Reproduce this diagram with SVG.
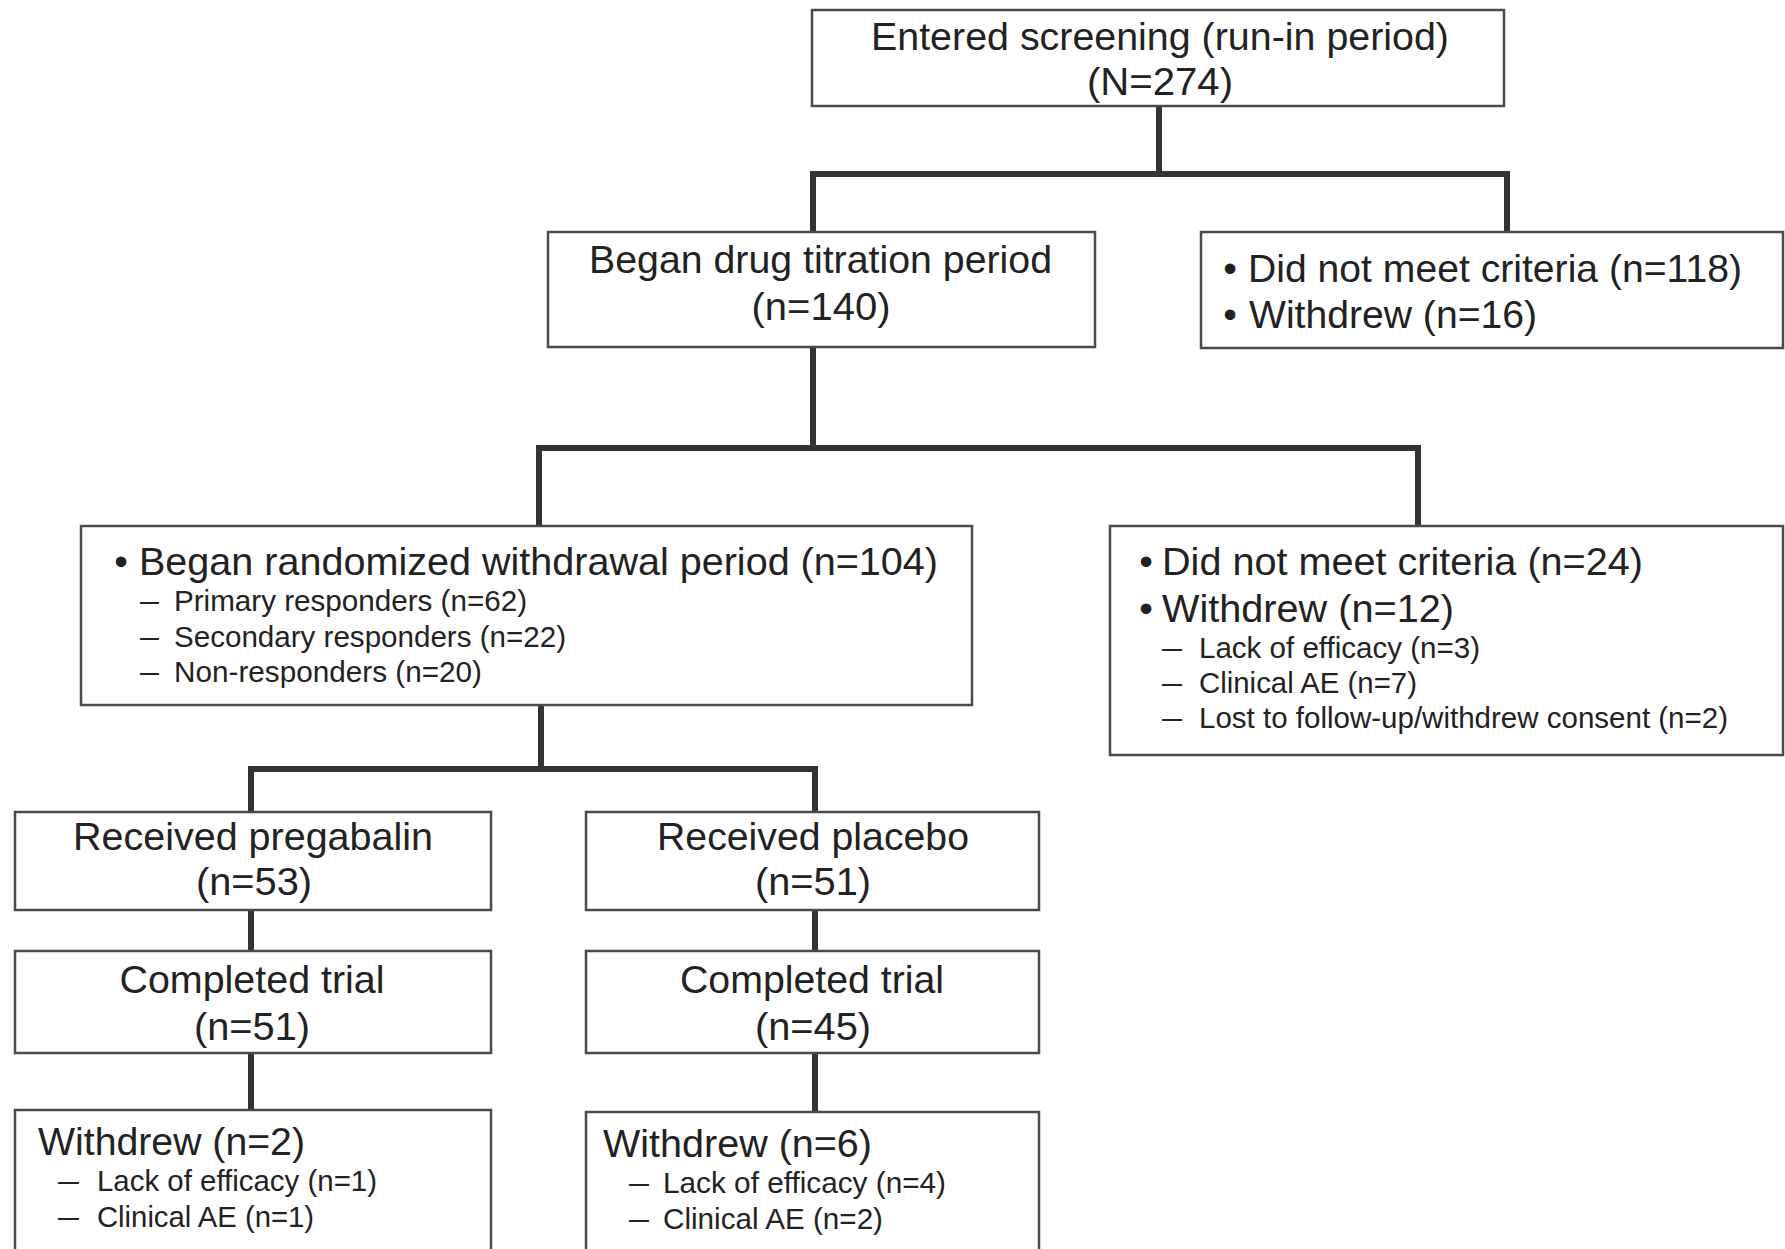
<svg xmlns="http://www.w3.org/2000/svg" width="1785" height="1249" viewBox="0 0 1785 1249">
<style>
.box{fill:#fff;stroke:#4a4a4a;stroke-width:2.5}
.t{font-family:"Liberation Sans",Arial,Helvetica,sans-serif;font-size:39px;fill:#222}
.s{font-family:"Liberation Sans",Arial,Helvetica,sans-serif;font-size:29px;fill:#222}
.m{text-anchor:middle}
.conn{fill:none;stroke:#333;stroke-width:6;stroke-linejoin:miter;stroke-linecap:butt}
</style>
<rect width="1785" height="1249" fill="#fff"/>
<g id="connectors">
<path class="conn" d="M813,232 V174 H1507 V232 M1159,106 V174"/>
<path class="conn" d="M539,526 V448 H1418 V526 M813,347 V448"/>
<path class="conn" d="M251,812 V769 H815 V812 M541,705 V769"/>
<path class="conn" d="M251,910 V951 M251,1053 V1110"/>
<path class="conn" d="M815,910 V951 M815,1053 V1112"/>
</g>
<g id="screening">
<rect class="box" x="812" y="10" width="692" height="96"/>
<text class="t m" x="1160" y="50" textLength="578" lengthAdjust="spacingAndGlyphs">Entered screening (run-in period)</text>
<text class="t m" x="1160" y="95" textLength="146" lengthAdjust="spacingAndGlyphs">(N=274)</text>
</g>
<g id="titration">
<rect class="box" x="548" y="232" width="547" height="115"/>
<text class="t" x="589" y="273" textLength="463" lengthAdjust="spacingAndGlyphs">Began drug titration period</text>
<text class="t m" x="821" y="320" textLength="139" lengthAdjust="spacingAndGlyphs">(n=140)</text>
</g>
<g id="excluded1">
<rect class="box" x="1201" y="232" width="582" height="116"/>
<text class="t m" x="1230" y="282">•</text>
<text class="t" x="1248" y="282" textLength="494" lengthAdjust="spacingAndGlyphs">Did not meet criteria (n=118)</text>
<text class="t m" x="1230" y="328">•</text>
<text class="t" x="1249" y="328" textLength="288" lengthAdjust="spacingAndGlyphs">Withdrew (n=16)</text>
</g>
<g id="randomized">
<rect class="box" x="81" y="526" width="891" height="179"/>
<text class="t m" x="121" y="575">•</text>
<text class="t" x="139" y="575" textLength="799" lengthAdjust="spacingAndGlyphs">Began randomized withdrawal period (n=104)</text>
<text class="s" x="140" y="611" textLength="19" lengthAdjust="spacingAndGlyphs">–</text>
<text class="s" x="174" y="611" textLength="353" lengthAdjust="spacingAndGlyphs">Primary responders (n=62)</text>
<text class="s" x="140" y="647" textLength="19" lengthAdjust="spacingAndGlyphs">–</text>
<text class="s" x="174" y="647" textLength="392" lengthAdjust="spacingAndGlyphs">Secondary responders (n=22)</text>
<text class="s" x="140" y="682" textLength="19" lengthAdjust="spacingAndGlyphs">–</text>
<text class="s" x="174" y="682" textLength="308" lengthAdjust="spacingAndGlyphs">Non-responders (n=20)</text>
</g>
<g id="excluded2">
<rect class="box" x="1110" y="526" width="673" height="229"/>
<text class="t m" x="1146" y="575">•</text>
<text class="t" x="1162" y="575" textLength="481" lengthAdjust="spacingAndGlyphs">Did not meet criteria (n=24)</text>
<text class="t m" x="1146" y="622">•</text>
<text class="t" x="1162" y="622" textLength="292" lengthAdjust="spacingAndGlyphs">Withdrew (n=12)</text>
<text class="s" x="1162" y="658" textLength="20" lengthAdjust="spacingAndGlyphs">–</text>
<text class="s" x="1199" y="658" textLength="281" lengthAdjust="spacingAndGlyphs">Lack of efficacy (n=3)</text>
<text class="s" x="1162" y="693" textLength="20" lengthAdjust="spacingAndGlyphs">–</text>
<text class="s" x="1199" y="693" textLength="218" lengthAdjust="spacingAndGlyphs">Clinical AE (n=7)</text>
<text class="s" x="1162" y="728" textLength="20" lengthAdjust="spacingAndGlyphs">–</text>
<text class="s" x="1199" y="728" textLength="529" lengthAdjust="spacingAndGlyphs">Lost to follow-up/withdrew consent (n=2)</text>
</g>
<g id="pregabalin">
<rect class="box" x="15" y="812" width="476" height="98"/>
<text class="t m" x="253" y="850" textLength="360" lengthAdjust="spacingAndGlyphs">Received pregabalin</text>
<text class="t m" x="254" y="895" textLength="116" lengthAdjust="spacingAndGlyphs">(n=53)</text>
</g>
<g id="placebo">
<rect class="box" x="586" y="812" width="453" height="98"/>
<text class="t m" x="813" y="850" textLength="312" lengthAdjust="spacingAndGlyphs">Received placebo</text>
<text class="t m" x="813" y="895" textLength="116" lengthAdjust="spacingAndGlyphs">(n=51)</text>
</g>
<g id="completed-pregabalin">
<rect class="box" x="15" y="951" width="476" height="102"/>
<text class="t m" x="252" y="993" textLength="265" lengthAdjust="spacingAndGlyphs">Completed trial</text>
<text class="t m" x="252" y="1040" textLength="116" lengthAdjust="spacingAndGlyphs">(n=51)</text>
</g>
<g id="completed-placebo">
<rect class="box" x="586" y="951" width="453" height="102"/>
<text class="t m" x="812" y="993" textLength="264" lengthAdjust="spacingAndGlyphs">Completed trial</text>
<text class="t m" x="813" y="1040" textLength="116" lengthAdjust="spacingAndGlyphs">(n=45)</text>
</g>
<g id="withdrew-pregabalin">
<rect class="box" x="15" y="1110" width="476" height="160"/>
<text class="t" x="38" y="1155" textLength="267" lengthAdjust="spacingAndGlyphs">Withdrew (n=2)</text>
<text class="s" x="58" y="1191" textLength="21" lengthAdjust="spacingAndGlyphs">–</text>
<text class="s" x="97" y="1191" textLength="280" lengthAdjust="spacingAndGlyphs">Lack of efficacy (n=1)</text>
<text class="s" x="58" y="1227" textLength="21" lengthAdjust="spacingAndGlyphs">–</text>
<text class="s" x="97" y="1227" textLength="217" lengthAdjust="spacingAndGlyphs">Clinical AE (n=1)</text>
</g>
<g id="withdrew-placebo">
<rect class="box" x="586" y="1112" width="453" height="160"/>
<text class="t" x="603" y="1157" textLength="269" lengthAdjust="spacingAndGlyphs">Withdrew (n=6)</text>
<text class="s" x="629" y="1193" textLength="20" lengthAdjust="spacingAndGlyphs">–</text>
<text class="s" x="663" y="1193" textLength="283" lengthAdjust="spacingAndGlyphs">Lack of efficacy (n=4)</text>
<text class="s" x="629" y="1229" textLength="20" lengthAdjust="spacingAndGlyphs">–</text>
<text class="s" x="663" y="1229" textLength="220" lengthAdjust="spacingAndGlyphs">Clinical AE (n=2)</text>
</g>
</svg>
